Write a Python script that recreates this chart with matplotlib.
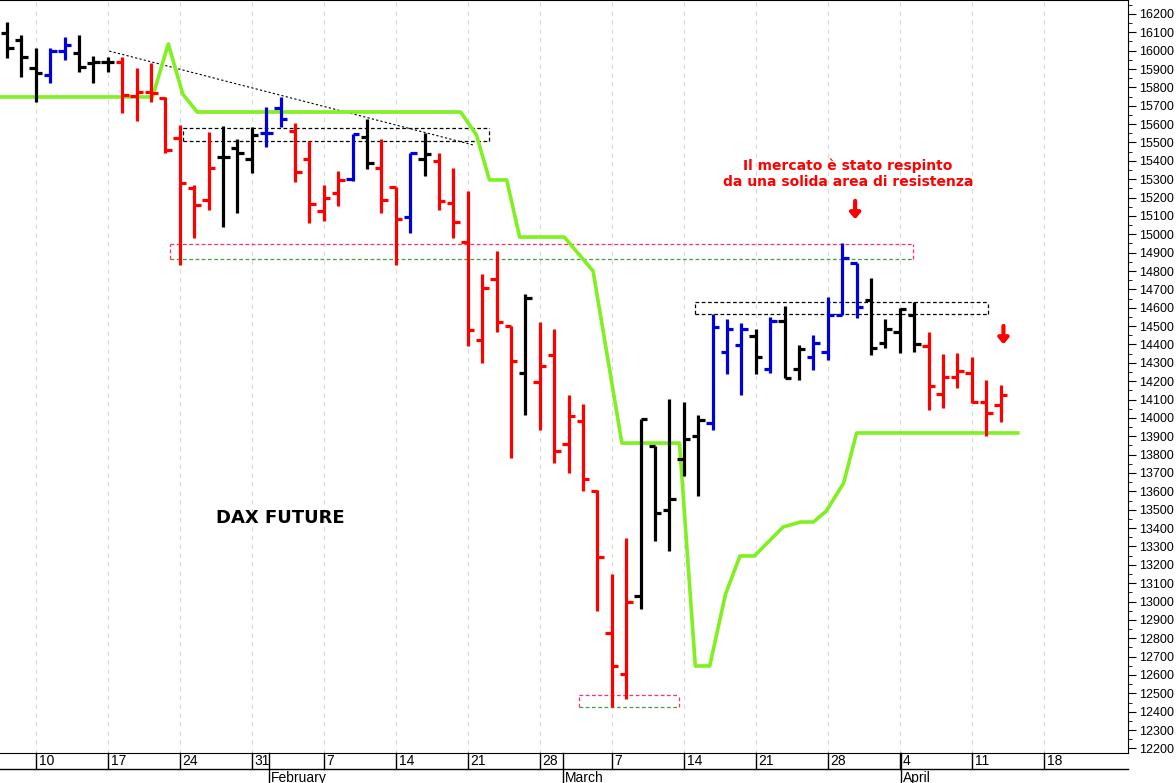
import matplotlib
matplotlib.use("Agg")
import matplotlib.pyplot as plt
from matplotlib.ticker import MultipleLocator

# barre giornaliere DAX future (6 gen - 14 apr)
highs = [16156, 16086, 16015, 16015, 16075, 16086, 15971, 15966, 15966, 15906,
         15933, 15748, 15595, 15269, 15557, 15590, 15519, 15584, 15693, 15748,
         15606, 15508, 15269, 15345, 15546, 15628, 15519, 15258, 15443, 15552,
         15443, 15361, 15236, 14784, 14909, 14500, 14675, 14522, 14484, 14125,
         14076, 13607, 13150, 13346, 13994, 13847, 14103, 14087, 14016, 14566,
         14539, 14517, 14484, 14550, 14609, 14397, 14451, 14659, 14953, 14844,
         14762, 14539, 14599, 14631, 14468, 14348, 14353, 14332, 14206, 14180]
lows = [15960, 15857, 15721, 15824, 15949, 15884, 15824, 15884, 15661, 15617,
        15721, 15443, 14833, 14980, 15132, 15040, 15116, 15334, 15476, 15584,
        15285, 15062, 15072, 15154, 15290, 15356, 15116, 14833, 15007, 15318,
        15132, 14980, 14392, 14299, 14468, 13782, 14016, 13934, 13754, 13700,
        13602, 12948, 12425, 12469, 12959, 13329, 13275, 13684, 13575, 13934,
        14239, 14125, 14239, 14245, 14217, 14206, 14261, 14315, 14560, 14544,
        14343, 14381, 14353, 14359, 14043, 14054, 14163, 14081, 13900, 13978]
opens = [16097, 16058, 15906, 15868, 15998, 15988, 15933, 15939, 15939, 15753,
         15775, 15742, 15525, 15252, 15187, 15421, 15470, 15410, 15552, 15688,
         15563, 15410, 15127, 15225, 15301, 15530, 15361, 15258, 15094, 15410,
         15399, 15171, 14958, 14424, 14757, 14500, 14245, 14196, 14343, 13858,
         13983, 13602, 12828, 12605, 13030, 13847, 13498, 13776, 13901, 13972,
         14359, 14397, 14446, 14266, 14528, 14266, 14332, 14359, 14560, 14844,
         14642, 14408, 14468, 14560, 14392, 14130, 14223, 14245, 14087, 14070]
closes = [16015, 15966, 15879, 15998, 16031, 15911, 15939, 15939, 15759, 15775,
          15770, 15459, 15279, 15160, 15361, 15421, 15443, 15541, 15552, 15628,
          15339, 15165, 15198, 15296, 15546, 15388, 15187, 15083, 15443, 15437,
          15181, 15067, 14479, 14708, 14522, 14310, 14653, 14283, 13820, 14010,
          13667, 13242, 12649, 12997, 13994, 13482, 13558, 13885, 13989, 14495,
          14484, 14484, 14332, 14528, 14217, 14375, 14408, 14560, 14871, 14604,
          14381, 14484, 14593, 14402, 14174, 14223, 14255, 14087, 14027, 14125]
colori = ["k", "k", "k", "b", "b", "k", "k", "k", "r", "r",
          "r", "r", "r", "r", "r", "k", "k", "k", "b", "b",
          "r", "r", "r", "r", "b", "k", "r", "r", "b", "k",
          "r", "r", "r", "r", "r", "r", "k", "r", "r", "r",
          "r", "r", "r", "r", "k", "k", "k", "k", "k", "b",
          "b", "b", "k", "b", "k", "k", "b", "b", "b", "b",
          "k", "k", "k", "k", "r", "r", "r", "r", "r", "r"]

# linea verde (indice barra, prezzo)
verde_x = [-0.5, 10.1, 11.2, 12.2, 13.2, 31.5, 32.6, 33.5, 34.7, 35.6, 38.7, 40.7,
           42.7, 46.7, 47.8, 48.8, 49.9, 50.9, 51.9, 53.9, 55.1, 56.0, 56.9, 58.1,
           59.0, 70.2]
verde_y = [15748, 15748, 16037, 15764, 15666, 15666, 15541, 15296, 15296, 14985,
           14985, 14800, 13863, 13863, 12649, 12649, 13041, 13248, 13248, 13406,
           13433, 13433, 13493, 13645, 13918, 13918]

giorni = ["10", "17", "24", "31", "7", "14", "21", "28", "7", "14", "21", "28", "4", "11", "18"]
mesi = ["February", "March", "April"]
mesi_pos = [18.2, 38.6, 62.1]

colmap = {"k": "black", "b": "#0000dd", "r": "#ff0000"}
plt.rcParams['font.family'] = ['Liberation Sans', 'DejaVu Sans']

fig = plt.figure(figsize=(11.76, 7.83), dpi=100)
ax = fig.add_axes([0, 30 / 783, 1128 / 1176, 753 / 783])
ax.set_xlim(-0.49, 77.85)
ax.set_ylim(12175, 16276)

lunedi = list(range(2, 2 + 5 * len(giorni), 5))
for m in lunedi:
    ax.axvline(m, color="#d8d8e0", lw=0.8, ls=(0, (4, 4)), zorder=0)

w = 0.45
for i in range(len(highs)):
    c = colmap[colori[i]]
    ax.plot([i, i], [lows[i], highs[i]], color=c, lw=2.3, solid_capstyle="butt", zorder=3)
    ax.plot([i - w, i], [opens[i], opens[i]], color=c, lw=2.3, solid_capstyle="butt", zorder=3)
    ax.plot([i, i + w], [closes[i], closes[i]], color=c, lw=2.3, solid_capstyle="butt", zorder=3)

ax.plot(verde_x, verde_y, color="#80f020", lw=2.6, zorder=2)

# trendline
ax.plot([7.1, 32.4], [15998, 15486], color="black", lw=0.8, ls=(0, (2, 2)), zorder=1)

# rettangoli
def rett(x0, x1, y0, y1, top, bottom):
    kw = dict(lw=0.9, ls=(0, (3, 2)), zorder=1)
    ax.plot([x0, x1], [y1, y1], color=top, **kw)
    ax.plot([x0, x1], [y0, y0], color=bottom, **kw)
    ax.plot([x0, x0], [y0, y1], color=top, **kw)
    ax.plot([x1, x1], [y0, y1], color=top, **kw)

rett(12.2, 33.5, 15508, 15579, "black", "black")
rett(47.8, 68.1, 14566, 14631, "black", "black")
rett(11.3, 62.9, 14866, 14947, "#ff3060", "#40a040")
rett(39.7, 46.7, 12425, 12490, "#ff3060", "#40a040")

ax.text(19, 13455, "DAX FUTURE", fontsize=13, fontweight="bold", ha="center", va="center",
        family="DejaVu Sans")
ax.text(58.4, 15372, "Il mercato è stato respinto", color="#ff0000", fontsize=10,
        fontweight="bold", ha="center", va="center", family="DejaVu Sans")
ax.text(58.4, 15285, "da una solida area di resistenza", color="#ff0000", fontsize=10,
        fontweight="bold", ha="center", va="center", family="DejaVu Sans")
for xa, ya in [(58.9, 15122), (69.2, 14441)]:
    ax.annotate("", xy=(xa, ya - 40), xytext=(xa, ya + 60),
                arrowprops=dict(arrowstyle="-|>,head_length=0.35,head_width=0.3",
                                color="#ff0000", lw=3, shrinkA=0, shrinkB=0))

# assi
ax.yaxis.tick_right()
ax.yaxis.set_major_locator(MultipleLocator(100))
ax.yaxis.set_minor_locator(MultipleLocator(50))
ax.tick_params(axis="y", which="major", length=6, labelsize=9, pad=2)
ax.tick_params(axis="y", which="minor", length=3)
ax.set_xticks([])
ax.spines["left"].set_visible(False)
ax.set_yticklabels([str(int(v)) for v in ax.get_yticks()])

# striscia date
tr = ax.get_xaxis_transform()
h = 753
r1 = -16 / h
r2 = -30 / h
ax.plot([-0.49, 77.85], [r1, r1], transform=tr, color="black", lw=1, clip_on=False)
for m, g in zip(lunedi, giorni):
    ax.plot([m, m], [0, r1], transform=tr, color="black", lw=1, clip_on=False)
    ax.text(m + 0.2, r1 / 2, g, transform=tr, fontsize=10, ha="left", va="center")
for p, nome in zip(mesi_pos, mesi):
    ax.plot([p, p], [0, r2], transform=tr, color="black", lw=1, clip_on=False)
    ax.text(p + 0.15, (r1 + r2) / 2 - 0.002, nome, transform=tr, fontsize=10, ha="left", va="center")

fig.savefig("out.png", dpi=100, facecolor="white")
